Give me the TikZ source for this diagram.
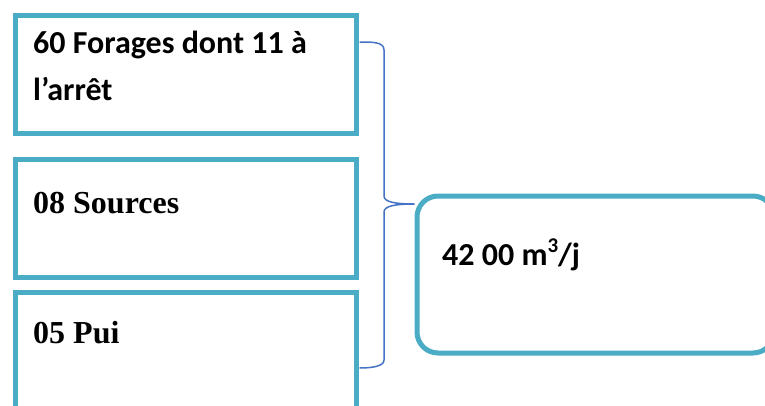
\documentclass[tikz,border=0pt]{standalone}
\usepackage{fontspec}
\usetikzlibrary{calc}
\setmainfont{Carlito}
\newfontfamily\timesf{Liberation Serif}
\definecolor{boxcol}{HTML}{4BACC6}
\definecolor{bracecol}{HTML}{4472C4}
\tikzset{
  box/.style={draw=boxcol,line width=5pt,fill=white},
  txtc/.style={font=\fontsize{32}{47}\selectfont\bfseries,inner sep=0pt,align=left},
  txtt/.style={font=\timesf\fontsize{32}{38}\selectfont\bfseries,inner sep=0pt},
  bracel/.style={draw=bracecol,line width=1.5pt}
}
\begin{document}
\begin{tikzpicture}[x=1pt,y=-1pt]
\useasboundingbox (0,0) rectangle (765,405);
\clip (0,0) rectangle (765,405);
\fill[white] (0,0) rectangle (765,405);
% boxes
\node[box,minimum width=341pt,minimum height=118pt,anchor=north west,inner sep=0pt] (b1) at (12.5,12.5) {};
\node[box,minimum width=341pt,minimum height=118pt,anchor=north west,inner sep=0pt] (b2) at (12.5,156.5) {};
\node[box,minimum width=341pt,minimum height=160pt,anchor=north west,inner sep=0pt] (b3) at (12.5,289.5) {};
\node[box,rounded corners=21pt,minimum width=357pt,minimum height=157pt,anchor=north west,inner sep=0pt] (r) at (414.5,193.5) {};
% texts
\node[txtc,anchor=base west] (t1) at (33,53) {60 Forages dont 11 à};
\node[txtc,anchor=base west] (t1b) at (33,100) {l’arrêt};
\node[txtt,anchor=base west] (t2) at (33,213) {08 Sources};
\node[txtt,anchor=base west] (t3) at (33,343) {05 Pui};
\node[txtc,anchor=base west] (t4) at (442,265) {42 00 m\raisebox{0.4em}{\fontsize{21}{21}\selectfont 3}/j};
% brace
\coordinate (bt) at ($(b1.north east)+(1,29.5)$);
\coordinate (bb) at ($(b3.north east)+(1,78.5)$);
\coordinate (tip) at ($(r.north west)+(0,10.5)$);
\draw[bracel] (bt) .. controls (373,42) and (384,42) .. (384,50)
  -- (384,196) .. controls (384,202) and (395,204) .. (tip)
  (tip) .. controls (395,204) and (384,206) .. (384,212)
  -- (384,360) .. controls (384,366) and (373,368) .. (bb);
\end{tikzpicture}
\end{document}
